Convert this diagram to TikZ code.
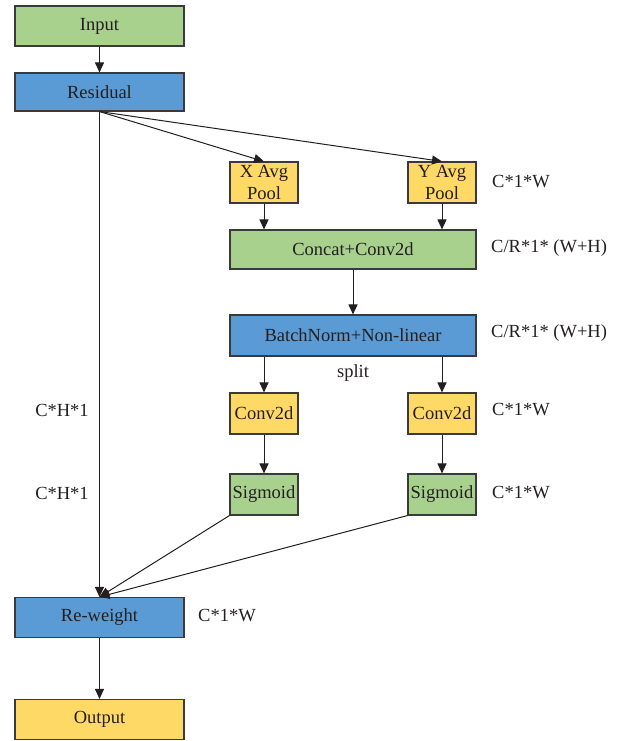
\documentclass[tikz,border=0pt]{standalone}
\usepackage{fontspec}
\setmainfont{Liberation Serif}
\usetikzlibrary{arrows.meta}
\definecolor{boxline}{HTML}{3A3A3A}
\definecolor{fgreen}{HTML}{A9D18E}
\definecolor{fblue}{HTML}{5B9BD5}
\definecolor{fyellow}{HTML}{FFD966}
\definecolor{ink}{HTML}{231F20}
\begin{document}
\begin{tikzpicture}[x=1pt,y=-1pt,
  box/.style={draw=boxline, line width=1.1pt, inner sep=0pt, align=center,
    text=ink, font=\fontsize{18.5}{22}\selectfont},
  wide/.style={box, minimum width=169pt, minimum height=40pt},
  mid/.style={box, minimum width=246pt, minimum height=40pt},
  small/.style={box, minimum width=68pt, minimum height=41pt},
  dim/.style={text=ink, font=\fontsize{18.5}{22}\selectfont, inner sep=0pt},
  arr/.style={draw=ink, line width=1pt, -{Triangle[length=10pt,width=9pt]}}]
\useasboundingbox (0,0) rectangle (617,741);

% main column
\node[wide, fill=fgreen]  (input)    at (99.5,26)   {Input};
\node[wide, fill=fblue, minimum height=38pt] (residual) at (99.5,92) {Residual};
\node[wide, fill=fblue]   (reweight) at (99.5,617.5) {Re-weight};
\node[wide, fill=fyellow] (output)   at (99.5,719.5) {Output};

% attention branch
\node[small, fill=fyellow] (xpool) at (264,182.5) {X Avg\\Pool};
\node[small, fill=fyellow] (ypool) at (442,182.5) {Y Avg\\Pool};
\node[mid, fill=fgreen, minimum height=39pt] (concat) at (353,249.5) {Concat+Conv2d};
\node[mid, fill=fblue, minimum height=41pt]  (bn)     at (353,335.5) {BatchNorm+Non-linear};
\node[small, fill=fyellow] (convl) at (264,413.5) {Conv2d};
\node[small, fill=fyellow] (convr) at (442,413.5) {Conv2d};
\node[small, fill=fgreen]  (sigl)  at (264,494.5) {Sigmoid};
\node[small, fill=fgreen]  (sigr)  at (442,494.5) {Sigmoid};

% tensor shapes
\node[dim, anchor=west] (d1) at (492,182)   {C*1*W};
\node[dim, anchor=west] (d2) at (491,248)   {C/R*1* (W+H)};
\node[dim, anchor=west] (d3) at (491,333)   {C/R*1* (W+H)};
\node[dim, anchor=west] (d4) at (492,410)   {C*1*W};
\node[dim, anchor=west] (d5) at (492,493)   {C*1*W};
\node[dim] (d6) at (62,410) {C*H*1};
\node[dim] (d7) at (62,493) {C*H*1};
\node[dim, anchor=west] (d8) at (198,616) {C*1*W};
\node[dim] (split) at (353,373) {split};

% connectors
\draw[arr] (input) -- (residual);
\draw[arr] (residual.south) -- (xpool.north);
\draw[arr] (residual.south) -- (ypool.north);
\draw[arr] (residual.south) -- (reweight.north);
\draw[arr] (xpool.south) -- (xpool.south |- concat.north);
\draw[arr] (ypool.south) -- (ypool.south |- concat.north);
\draw[arr] (concat) -- (bn);
\draw[arr] (convl.north |- bn.south) -- (convl.north);
\draw[arr] (convr.north |- bn.south) -- (convr.north);
\draw[arr] (convl) -- (sigl);
\draw[arr] (convr) -- (sigr);
\draw[arr] (sigl.south west) -- (reweight.north);
\draw[arr] (sigr.south west) -- (reweight.north);
\draw[arr] (reweight) -- (output);
\end{tikzpicture}
\end{document}
